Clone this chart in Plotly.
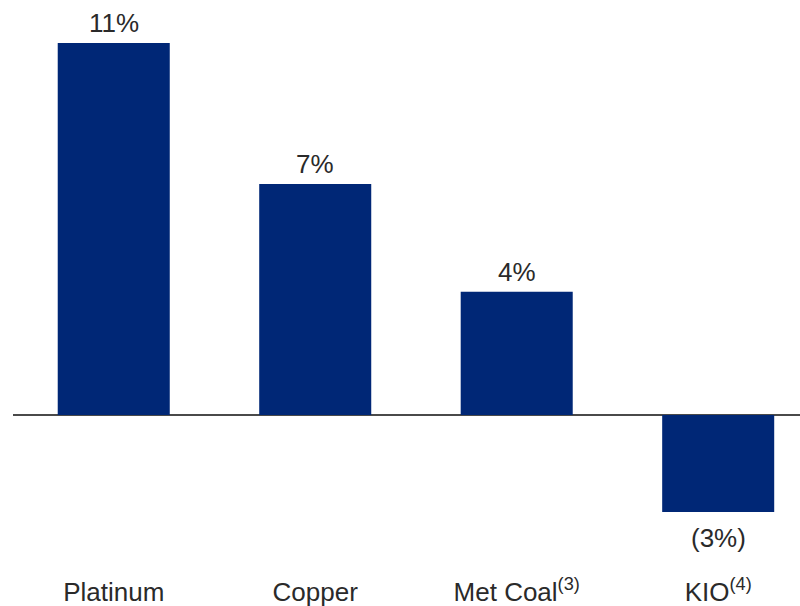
import plotly.graph_objects as go

categories = ["Platinum", "Copper", "Met Coal<sup>(3)</sup>", "KIO<sup>(4)</sup>"]
values = [11.0, 6.83, 3.64, -2.87]
value_labels = ["11%", "7%", "4%", "(3%)"]

BAR = "#002776"
TXT = "#2a2a2a"
FONT = "Liberation Sans"

xs = list(range(len(categories)))

fig = go.Figure()
fig.add_trace(go.Bar(
    x=xs, y=values, width=0.556,
    marker=dict(color=BAR, line=dict(width=0)),
    hoverinfo="skip", showlegend=False,
))

for x, v, lab in zip(xs, values, value_labels):
    fig.add_annotation(
        x=x, y=v, text=lab, showarrow=False,
        xref="x", yref="y",
        yanchor="bottom" if v >= 0 else "top",
        yshift=3 if v >= 0 else -9,
        font=dict(family=FONT, size=26, color=TXT),
    )

fig.update_layout(
    width=800, height=606,
    margin=dict(l=13, r=0, t=0, b=36),
    paper_bgcolor="white", plot_bgcolor="white",
    font=dict(family=FONT, size=26, color=TXT),
    xaxis=dict(
        range=[-0.5, 3.406], tickmode="array", tickvals=xs, ticktext=categories,
        showgrid=False, zeroline=False, showline=False, ticks="",
        ticklabelstandoff=4,
        tickfont=dict(family=FONT, size=26, color=TXT),
    ),
    yaxis=dict(
        range=[-4.584, 12.27], showgrid=False, showticklabels=False,
        zeroline=True, zerolinecolor="#4a4a4a", zerolinewidth=2,
        showline=False, ticks="",
    ),
)

fig.write_html("out.html")
